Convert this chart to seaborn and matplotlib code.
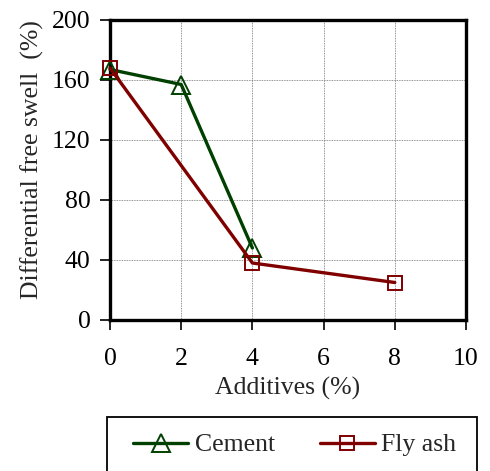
import matplotlib
matplotlib.use("Agg")
import matplotlib.pyplot as plt
from matplotlib.patches import Rectangle
import seaborn as sns
import pandas as pd

# Free swell measurements
cement_pct = [0, 2, 4]
cement_swell = [167, 157, 48]
flyash_pct = [0, 4, 8]
flyash_swell = [168, 38, 25]

x_ticks = [0, 2, 4, 6, 8, 10]
y_ticks = [0, 40, 80, 120, 160, 200]

sns.set_style("ticks")
plt.rcParams["font.family"] = "serif"
plt.rcParams["font.serif"] = ["Liberation Serif", "DejaVu Serif"]
FS = 18.5

fig = plt.figure(figsize=(4.9, 4.71), dpi=100)
ax = fig.add_axes([110 / 490, 1 - 320 / 471, 356 / 490, 300 / 471])

df_c = pd.DataFrame({"x": cement_pct, "y": cement_swell})
df_f = pd.DataFrame({"x": flyash_pct, "y": flyash_swell})

green = "#004000"
red = "#800000"

sns.lineplot(data=df_c, x="x", y="y", ax=ax, color=green, linewidth=2.4,
             marker="^", markersize=12.5, markerfacecolor="none",
             markeredgecolor=green, markeredgewidth=1.4, clip_on=False,
             label="Cement", zorder=3)
sns.lineplot(data=df_f, x="x", y="y", ax=ax, color=red, linewidth=2.4,
             marker="s", markersize=10.5, markerfacecolor="none",
             markeredgecolor=red, markeredgewidth=1.4, clip_on=False,
             label="Fly ash", zorder=4)

ax.set_xlim(0, 10)
ax.set_ylim(0, 200)
ax.set_xticks(x_ticks)
ax.set_yticks(y_ticks)
ax.grid(True, color="#707070", linestyle=(0, (1, 1)), linewidth=0.6)
ax.set_axisbelow(True)
for s in ax.spines.values():
    s.set_visible(True)
    s.set_linewidth(2.4)
    s.set_color("black")
ax.tick_params(axis="both", direction="out", length=7, width=1.2,
               labelsize=FS, colors="black")
ax.tick_params(axis="x", pad=13)
ax.tick_params(axis="y", pad=7)

ax.set_xlabel("Additives (%)", fontsize=FS, labelpad=5)
ax.set_ylabel("Differential free swell  (%)", fontsize=FS)
ax.yaxis.set_label_coords(-0.185, 0.535)

handles, labels = ax.get_legend_handles_labels()
ax.get_legend().remove()
fig.legend(handles, labels, loc="center left",
           bbox_to_anchor=(133 / 490, 1 - 445 / 471),
           ncol=2, frameon=False, fontsize=FS, borderpad=0,
           borderaxespad=0, handlelength=2.15, handletextpad=0.25,
           columnspacing=1.75)
fig.patches.append(Rectangle((107 / 490, 1 - 480 / 471), 370 / 490, 63 / 471,
                             transform=fig.transFigure, fill=False,
                             edgecolor="black", linewidth=1.3))

fig.savefig("out.png", dpi=100)
